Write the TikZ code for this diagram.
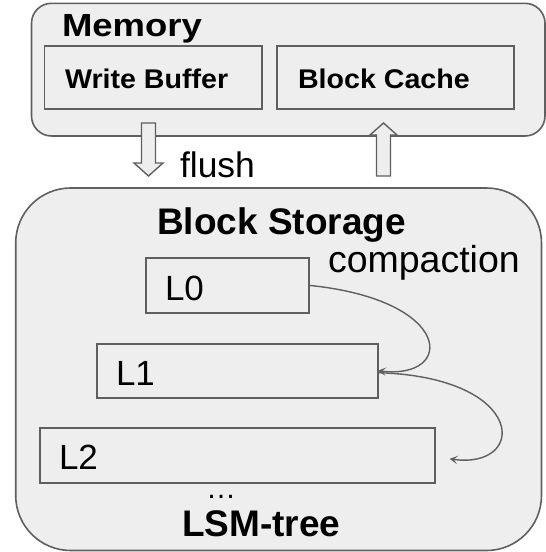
\documentclass[tikz,border=0pt]{standalone}
\usepackage{fontspec}
\setmainfont{Liberation Sans}
\usepackage{graphicx}
\usetikzlibrary{arrows.meta}

\definecolor{panel}{HTML}{EEEEEE}
\definecolor{edge}{HTML}{5F5F5F}

\newcommand\fsHead{\fontsize{32}{38}\selectfont\bfseries}
\newcommand\fsBox{\fontsize{27}{32}\selectfont\bfseries}
\newcommand\fsBig{\fontsize{37}{42}\selectfont\bfseries}
\newcommand\fsText{\fontsize{35.5}{42}\selectfont}
\newcommand\fsComp{\fontsize{37.5}{42}\selectfont}
\newcommand\fsLevel{\fontsize{35}{42}\selectfont}
\newcommand\fsDots{\fontsize{30}{36}\selectfont}

\tikzset{
  panelbox/.style={draw=edge, fill=panel, line width=1.6pt, anchor=north west,
    inner sep=0pt, outer sep=0pt},
  levelbox/.style={draw=edge, fill=panel, line width=1.6pt, anchor=north west,
    inner sep=0pt, outer sep=0pt},
  lbl/.style={anchor=base west, inner sep=0pt, outer sep=0pt},
  hollow/.style={draw=edge, fill=panel, line width=1.4pt, line join=miter},
  flow/.style={draw=edge, line width=1.4pt,
    -{Stealth[length=8pt,width=8.5pt,inset=4pt]}},
}

\begin{document}
\begin{tikzpicture}[x=1pt,y=-1pt]
\useasboundingbox (0,0) rectangle (546,552);

% memory tier
\node[panelbox, rounded corners=20pt, minimum width=513.5pt, minimum height=132.7pt]
  (mem) at (31.5,3.3) {};
\node[lbl, font=\fsHead] (memtxt) at (62,36) {\scalebox{1.14}[1]{Memory}};
\node[levelbox, minimum width=217.4pt, minimum height=63pt] (wb) at (44.3,46) {};
\node[lbl, font=\fsBox] (wbtxt) at (65,88) {\scalebox{1.06}[1]{Write Buffer}};
\node[levelbox, minimum width=236.7pt, minimum height=63pt] (bc) at (277,46) {};
\node[lbl, font=\fsBox] (bctxt) at (298,88) {\scalebox{1.06}[1]{Block Cache}};

% storage tier
\node[panelbox, rounded corners=55pt, minimum width=525.8pt, minimum height=362.5pt]
  (store) at (15.7,188) {};
\node[lbl, font=\fsBig] (storetxt) at (157,234) {Block Storage};
\node[lbl, font=\fsComp] (comp) at (328,272) {compaction};

\node[levelbox, minimum width=163.3pt, minimum height=54.7pt] (l0) at (145.7,258) {};
\node[lbl, font=\fsLevel] (l0txt) at (165,300) {L0};
\node[levelbox, minimum width=281.3pt, minimum height=54pt] (l1) at (96.7,343.7) {};
\node[lbl, font=\fsLevel] (l1txt) at (116,385) {L1};
\node[levelbox, minimum width=394.7pt, minimum height=54.7pt] (l2) at (40,428) {};
\node[lbl, font=\fsLevel] (l2txt) at (59,469) {L2};

\node[lbl, font=\fsDots] (dots) at (206,498) {…};
\node[lbl, font=\fsBig] (lsm) at (182,536) {LSM-tree};

% flush: hollow arrow down out of the write buffer
\coordinate (dn) at (148.5,123);
\draw[hollow] ([xshift=-7pt]dn) -- ++(0,40) -- ++(-7.5,0) -- ++(14.5,13)
  -- ++(14.5,-13) -- ++(-7.5,0) -- ++(0,-40) -- cycle;
\node[lbl, font=\fsText] (flush) at (180,177) {flush};

% reads: hollow arrow up into the block cache
\coordinate (up) at (383.5,176);
\draw[hollow] ([xshift=-7pt]up) -- ++(0,-41) -- ++(-6.5,0) -- ++(13.5,-12)
  -- ++(13.5,12) -- ++(-6.5,0) -- ++(0,41) -- cycle;

% compaction between levels
\draw[flow] (l0.east) .. controls +(146,14.7) and +(77,9.3) .. (l1.east);
\coordinate (l2in) at ([xshift=15pt,yshift=-3.5pt]l2.east);
\draw[flow] ([yshift=-2pt]l1.east) .. controls +(150,4.3) and +(78,11) .. (l2in);
\end{tikzpicture}
\end{document}
